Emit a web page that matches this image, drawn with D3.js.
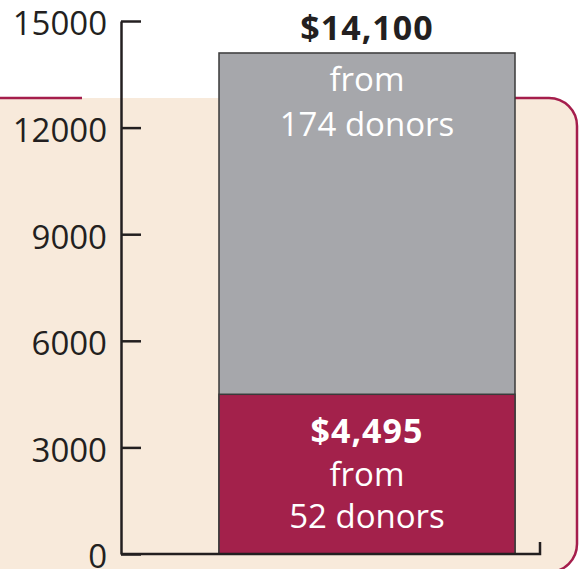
<!DOCTYPE html>
<meta charset="utf-8">
<script src="https://cdn.jsdelivr.net/npm/d3@7"></script>
<style>
  body { margin: 0; background: #fff; }
  text { font-family: "Open Sans", sans-serif; }
</style>
<div id="my_dataviz"></div>
<script>

// values
var totalAmount = 14100;
var totalDonors = 174;
var partAmount = 4495;
var partDonors = 52;
var yTicks = [0, 3000, 6000, 9000, 12000, 15000];

var width = 582, height = 569;

var svg = d3.select("#my_dataviz")
  .append("svg")
    .attr("width", width)
    .attr("height", height);

var y = d3.scaleLinear()
  .domain([0, 15000])
  .range([554, 21]);

var fmt = d3.format("$,");

// beige panel with red rounded border
svg.append("rect")
  .attr("x", -40).attr("y", 98)
  .attr("width", 617).attr("height", 474)
  .attr("rx", 28)
  .attr("fill", "#F8EADB");

svg.append("line")
  .attr("x1", 0).attr("x2", 82)
  .attr("y1", 98).attr("y2", 98)
  .attr("stroke", "#A51E4C").attr("stroke-width", 2.5);

var p = d3.path();
p.moveTo(500, 98);
p.lineTo(549, 98);
p.arcTo(577, 98, 577, 126, 28);
p.lineTo(577, 544);
p.arcTo(577, 572, 549, 572, 28);
p.lineTo(300, 572);
svg.append("path")
  .attr("d", p.toString())
  .attr("fill", "none")
  .attr("stroke", "#A51E4C").attr("stroke-width", 2.5);

// bar
var x0 = 219, x1 = 515;
svg.append("rect")
  .attr("x", x0).attr("y", y(totalAmount))
  .attr("width", x1 - x0).attr("height", y(0) - y(totalAmount))
  .attr("fill", "#A6A7AB")
  .attr("stroke", "#3a3a3a").attr("stroke-width", 1.5);

svg.append("rect")
  .attr("x", x0).attr("y", y(partAmount))
  .attr("width", x1 - x0).attr("height", y(0) - y(partAmount))
  .attr("fill", "#A3214B")
  .attr("stroke", "#3a3a3a").attr("stroke-width", 1.5);

// y axis
var axis = svg.append("g")
  .attr("transform", "translate(121,0)")
  .call(d3.axisRight(y).tickValues(yTicks).tickFormat(d3.format("d"))
    .tickSize(20).tickSizeOuter(0));
axis.select(".domain").attr("stroke", "#231F20").attr("stroke-width", 2.5);
axis.selectAll(".tick line").attr("stroke", "#231F20").attr("stroke-width", 2.5);
axis.selectAll(".tick text")
  .attr("x", -14)
  .attr("dy", "0.42em")
  .attr("text-anchor", "end")
  .attr("fill", "#231F20")
  .style("font-size", "33px")
  .style("font-family", "'Open Sans', sans-serif");

// baseline with end tick
svg.append("path")
  .attr("d", "M121," + y(0) + "H540V" + (y(0) - 12))
  .attr("fill", "none")
  .attr("stroke", "#231F20").attr("stroke-width", 2.5);

// labels
var cx = (x0 + x1) / 2;
function label(txt, ypos, color, bold) {
  svg.append("text")
    .attr("x", cx).attr("y", ypos)
    .attr("text-anchor", "middle")
    .attr("fill", color)
    .style("font-size", bold ? "34px" : "33px")
    .style("font-weight", bold ? "bold" : "normal")
    .style("letter-spacing", bold ? "1px" : "0px")
    .text(txt);
}
label(fmt(totalAmount), 40, "#231F20", true);
label("from", 91, "#fff", false);
label(totalDonors + " donors", 136, "#fff", false);
label(fmt(partAmount), 443, "#fff", true);
label("from", 486, "#fff", false);
label(partDonors + " donors", 528, "#fff", false);

</script>
